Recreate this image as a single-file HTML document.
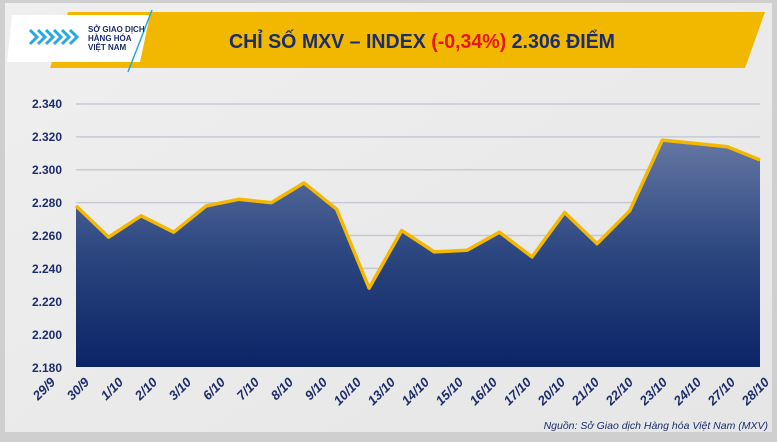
<!DOCTYPE html>
<html><head><meta charset="utf-8"><style>
body{margin:0;width:777px;height:437px;overflow:hidden;background:#cfcfcf;font-family:"Liberation Sans",sans-serif}
</style></head><body>
<svg width="777" height="437" viewBox="0 0 777 437" xmlns="http://www.w3.org/2000/svg">
<defs>
<linearGradient id="g" x1="0" y1="0" x2="0" y2="1">
<stop offset="0" stop-color="#6477a3"/><stop offset="0.5" stop-color="#2c4680"/><stop offset="1" stop-color="#0a2466"/>
</linearGradient>
<linearGradient id="bg" x1="0" y1="0" x2="1" y2="1">
<stop offset="0" stop-color="#efefef"/><stop offset="1" stop-color="#e6e6e6"/>
</linearGradient>
</defs>
<rect x="5" y="3" width="767" height="429" fill="url(#bg)"/>
<polygon points="68,12 765,12 745,68 50,68" fill="#f2b800"/>
<polygon points="12,15 150,15 140,62 7,62" fill="#fff"/>
<line x1="152" y1="10" x2="128" y2="72" stroke="#2aa6e0" stroke-width="1.5"/>
<g fill="none" stroke="#29a8e0" stroke-width="3">
<path d="M30,30 l7,7 -7,7 M38,30 l7,7 -7,7 M46,30 l7,7 -7,7 M54,30 l7,7 -7,7 M62,30 l7,7 -7,7 M70,30 l7,7 -7,7"/>
</g>
<text x="88" y="32" font-size="8" font-weight="bold" fill="#1c2d6b">SỞ GIAO DỊCH</text>
<text x="88" y="41" font-size="8" font-weight="bold" fill="#1c2d6b">HÀNG HÓA</text>
<text x="88" y="50" font-size="8" font-weight="bold" fill="#1c2d6b">VIỆT NAM</text>
<text x="229" y="48" font-size="20" font-weight="bold" fill="#1c2d6b" textLength="386" lengthAdjust="spacingAndGlyphs">CHỈ SỐ MXV – INDEX <tspan fill="#e8141b">(-0,34%)</tspan> 2.306 ĐIỂM</text>
<g stroke="#c6cad6" stroke-width="1.5">
<line x1="76" y1="104" x2="760" y2="104"/><line x1="76" y1="136.9" x2="760" y2="136.9"/>
<line x1="76" y1="169.8" x2="760" y2="169.8"/><line x1="76" y1="202.6" x2="760" y2="202.6"/>
<line x1="76" y1="235.5" x2="760" y2="235.5"/><line x1="76" y1="268.4" x2="760" y2="268.4"/>
<line x1="76" y1="301.2" x2="760" y2="301.2"/><line x1="76" y1="334.1" x2="760" y2="334.1"/>
</g>
<g font-size="12" font-weight="bold" fill="#1c2d6b" text-anchor="end">
<text x="62" y="108">2.340</text><text x="62" y="141">2.320</text><text x="62" y="174">2.300</text>
<text x="62" y="207">2.280</text><text x="62" y="240">2.260</text><text x="62" y="273">2.240</text>
<text x="62" y="306">2.220</text><text x="62" y="339">2.200</text><text x="62" y="372">2.180</text>
</g>
<polygon fill="url(#g)" points="76,367 76,205.9 108.6,237.1 141.1,215.8 173.7,232.2 206.3,205.9 238.9,199.3 271.4,202.6 304,182.9 336.6,209.2 369.1,288.1 401.7,230.5 434.3,251.9 466.9,250.3 499.4,232.2 532,256.9 564.6,212.5 597.1,243.7 629.7,210.8 662.3,140.1 694.9,143.4 727.4,146.7 760,159.9 760,367"/>
<polyline fill="none" stroke="#f5b800" stroke-width="3.5" stroke-linejoin="round" points="76,205.9 108.6,237.1 141.1,215.8 173.7,232.2 206.3,205.9 238.9,199.3 271.4,202.6 304,182.9 336.6,209.2 369.1,288.1 401.7,230.5 434.3,251.9 466.9,250.3 499.4,232.2 532,256.9 564.6,212.5 597.1,243.7 629.7,210.8 662.3,140.1 694.9,143.4 727.4,146.7 760,159.9"/>
<g font-size="13" font-weight="bold" font-style="italic" fill="#1c2d6b" text-anchor="end">
<text transform="translate(56,383) rotate(-45)">29/9</text>
<text transform="translate(90,383) rotate(-45)">30/9</text>
<text transform="translate(124,383) rotate(-45)">1/10</text>
<text transform="translate(158,383) rotate(-45)">2/10</text>
<text transform="translate(192,383) rotate(-45)">3/10</text>
<text transform="translate(226,383) rotate(-45)">6/10</text>
<text transform="translate(260,383) rotate(-45)">7/10</text>
<text transform="translate(294,383) rotate(-45)">8/10</text>
<text transform="translate(328,383) rotate(-45)">9/10</text>
<text transform="translate(362,383) rotate(-45)">10/10</text>
<text transform="translate(396,383) rotate(-45)">13/10</text>
<text transform="translate(430,383) rotate(-45)">14/10</text>
<text transform="translate(464,383) rotate(-45)">15/10</text>
<text transform="translate(498,383) rotate(-45)">16/10</text>
<text transform="translate(532,383) rotate(-45)">17/10</text>
<text transform="translate(566,383) rotate(-45)">20/10</text>
<text transform="translate(600,383) rotate(-45)">21/10</text>
<text transform="translate(634,383) rotate(-45)">22/10</text>
<text transform="translate(668,383) rotate(-45)">23/10</text>
<text transform="translate(702,383) rotate(-45)">24/10</text>
<text transform="translate(736,383) rotate(-45)">27/10</text>
<text transform="translate(770,383) rotate(-45)">28/10</text>
</g>
<text x="768" y="429" font-size="10.5" font-style="italic" fill="#1c2d6b" text-anchor="end">Nguồn: Sở Giao dịch Hàng hóa Việt Nam (MXV)</text>
</svg>
</body></html>
